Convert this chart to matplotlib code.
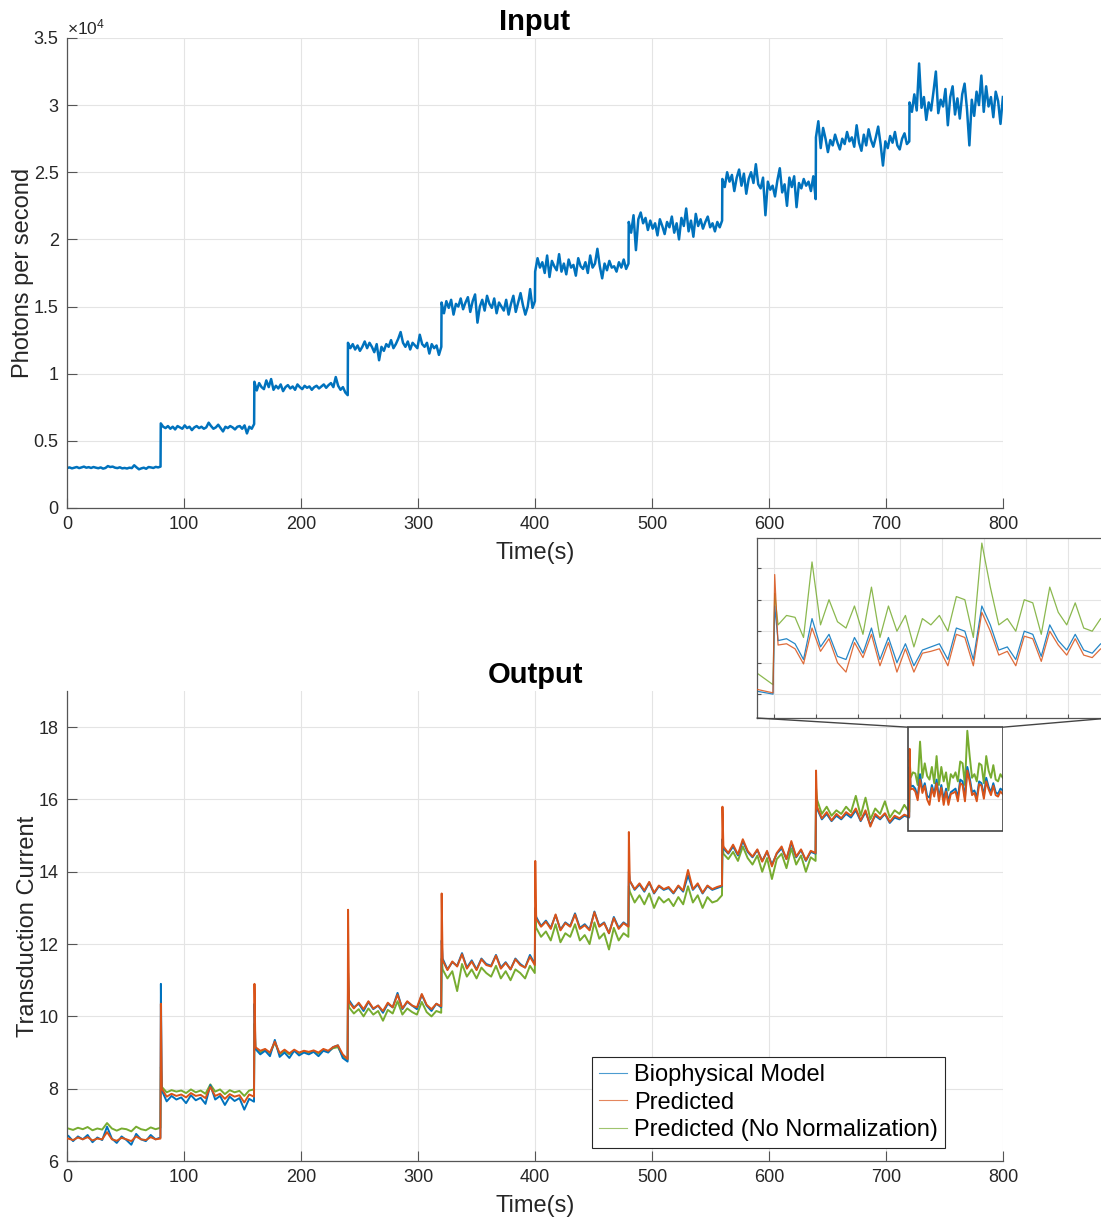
import numpy as np
import matplotlib.pyplot as plt
from matplotlib.patches import Rectangle, ConnectionPatch
from matplotlib.ticker import FuncFormatter

plt.rcParams['font.family'] = ['Liberation Sans', 'DejaVu Sans']
plt.rcParams['mathtext.fontset'] = 'custom'
plt.rcParams['mathtext.rm'] = 'Liberation Sans'

# light level steps every 80 s
step_times = [0, 80, 160, 240, 320, 400, 480, 560, 640, 720]

# input, thousands of photons per second, one reading every ~2 s
photons_k = [
    [2.98, 3.02, 2.95, 3.0, 3.05, 2.97, 3.02, 3.08, 3.0, 3.04, 2.98, 3.05, 3.0, 2.96, 3.02, 2.93, 2.98, 3.12, 3.05, 3.08,
     3.0, 2.97, 3.03, 2.95, 2.98, 2.94, 3.0, 2.97, 3.18, 3.02, 2.88, 2.95, 3.0, 2.92, 3.05, 3.02, 2.98, 3.06, 3.02, 3.08],
    [6.3, 6.05, 5.95, 6.1, 5.9, 6.05, 5.85, 6.1, 6.0, 5.9, 6.15, 5.95, 6.05, 5.8, 6.0, 6.1, 5.95, 6.05, 5.9, 6.0,
     6.35, 6.1, 5.9, 6.0, 6.2, 5.95, 5.7, 6.05, 5.95, 6.1, 6.0, 5.85, 6.05, 6.1, 5.9, 6.15, 5.55, 6.05, 5.9, 6.25],
    [9.4, 8.75, 9.3, 9.0, 8.85, 9.5, 9.0, 9.6, 8.8, 9.1, 8.9, 9.2, 8.7, 9.0, 9.15, 8.9, 9.05, 8.8, 9.2, 9.0,
     8.85, 9.1, 8.95, 9.05, 8.8, 9.0, 9.1, 8.9, 9.05, 9.2, 8.95, 9.15, 9.3, 9.0, 9.75, 9.1, 8.8, 9.0, 8.6, 8.4],
    [12.3, 11.9, 12.2, 11.8, 12.1, 11.7, 12.0, 12.4, 11.9, 12.3, 12.0, 11.6, 12.2, 11.0, 12.0, 11.7, 12.2, 12.0, 12.5, 11.9,
     12.2, 12.6, 13.1, 12.3, 12.0, 12.4, 11.8, 12.3, 12.1, 11.9, 12.9, 12.2, 12.0, 12.3, 11.5, 12.2, 11.9, 12.1, 11.4, 12.0],
    [15.3, 14.5, 15.4, 14.9, 15.5, 14.4, 15.2, 15.0, 15.6, 14.8, 15.3, 15.7, 14.6, 15.4, 15.9, 13.8, 15.0, 15.5, 14.7, 15.8,
     15.2, 14.9, 15.6, 14.5, 15.3, 15.0, 14.7, 15.5, 14.4, 15.2, 15.8, 14.6, 15.3, 16.0, 15.1, 14.4, 15.0, 16.3, 14.9, 15.4],
    [17.6, 18.6, 17.9, 18.3, 17.5, 18.8, 17.2, 18.4, 18.0, 17.7, 18.9, 17.6, 18.2, 17.4, 18.5, 17.9, 18.1, 17.3, 18.6, 18.0,
     17.8, 18.3, 17.5, 18.8, 17.9, 18.2, 19.3, 18.0, 17.1, 18.2, 17.7, 18.4, 17.9, 18.0, 17.6, 18.3, 17.9, 18.5, 17.8, 18.2],
    [21.3, 20.5, 21.8, 19.2, 21.5, 22.0, 21.2, 21.6, 20.7, 21.4, 20.8, 21.2, 20.3, 21.5, 21.0, 20.4, 21.3, 20.9, 21.7, 20.5,
     21.2, 20.0, 21.6, 21.0, 22.3, 20.6, 21.4, 20.2, 21.9, 21.0, 21.5, 20.8, 21.3, 21.7, 20.9, 21.2, 20.6, 21.3, 20.9, 21.4],
    [24.5, 23.9, 25.0, 24.3, 24.8, 23.6, 24.6, 25.2, 24.0, 24.9, 23.4, 24.5, 25.0, 24.2, 25.6, 24.1, 23.8, 24.6, 21.8, 24.3,
     23.7, 24.0, 23.2, 24.4, 25.3, 23.5, 24.1, 22.5, 24.6, 23.9, 24.7, 22.4, 24.2, 23.8, 24.5, 24.0, 24.3, 23.6, 24.7, 23.0],
    [27.6, 28.8, 26.8, 28.3, 27.5, 26.5, 27.4, 27.0, 27.8, 27.2, 26.7, 27.5, 27.1, 28.0, 27.3, 27.6, 26.9, 28.5, 27.2, 26.6,
     27.8, 27.0, 28.2, 27.4, 26.9, 27.6, 28.4, 27.1, 25.5, 27.3, 26.8, 27.7, 27.2, 28.0, 27.0, 26.7, 27.5, 27.9, 27.1, 27.3],
    [30.2, 29.5, 30.8, 29.6, 33.1, 29.8, 30.6, 28.9, 30.2, 29.6, 31.0, 32.5, 29.4, 30.4, 29.9, 31.2, 28.5, 30.6, 31.4, 29.3,
     30.5, 29.0, 30.8, 31.6, 29.7, 27.0, 30.4, 29.2, 31.0, 30.0, 32.2, 29.5, 31.4, 29.9, 30.6, 29.1, 31.0, 30.3, 28.6, 30.6],
]

# output current: peak right after each step, then readings along the step
bio_spike = [6.7, 10.9, 10.35, 11.2, 12.1, 13.0, 14.0, 14.9, 16.1, 16.9]
pred_spike = [6.62, 10.35, 10.9, 12.95, 13.4, 14.3, 15.1, 15.8, 16.8, 17.4]
nonorm_spike = [6.9, 8.6, 9.8, 10.8, 11.6, 12.8, 13.6, 14.9, 16.3, 17.1]

bio = [
    [6.7, 6.55, 6.68, 6.6, 6.72, 6.52, 6.65, 6.58, 6.95, 6.62, 6.5, 6.68, 6.58, 6.45, 6.75, 6.6, 6.55, 6.72, 6.6, 6.65],
    [7.95, 7.65, 7.8, 7.7, 7.76, 7.6, 7.82, 7.68, 7.75, 7.58, 8.1, 7.7, 7.8, 7.55, 7.78, 7.66, 7.74, 7.42, 7.72, 7.64],
    [9.1, 8.95, 9.05, 8.9, 9.35, 8.88, 9.0, 8.85, 9.05, 8.92, 9.0, 8.95, 9.02, 8.9, 9.05, 9.0, 9.15, 9.2, 8.85, 8.75],
    [10.45, 10.25, 10.35, 10.15, 10.4, 10.2, 10.3, 10.1, 10.35, 10.25, 10.65, 10.2, 10.4, 10.3, 10.2, 10.6, 10.3, 10.15, 10.35, 10.25],
    [11.6, 11.3, 11.5, 11.4, 11.75, 11.35, 11.55, 11.3, 11.6, 11.45, 11.4, 11.7, 11.35, 11.5, 11.3, 11.6, 11.45, 11.35, 11.7, 11.45],
    [12.75, 12.5, 12.65, 12.45, 12.8, 12.4, 12.6, 12.5, 12.85, 12.45, 12.55, 12.4, 12.9, 12.5, 12.6, 12.3, 12.75, 12.45, 12.6, 12.5],
    [13.75, 13.5, 13.65, 13.45, 13.7, 13.4, 13.6, 13.5, 13.55, 13.4, 13.6, 13.45, 13.9, 13.5, 13.65, 13.4, 13.6, 13.5, 13.55, 13.6],
    [14.65, 14.5, 14.7, 14.45, 14.85, 14.55, 14.4, 14.6, 14.3, 14.55, 14.2, 14.5, 14.65, 14.35, 14.8, 14.4, 14.6, 14.3, 14.55, 14.5],
    [15.75, 15.45, 15.6, 15.4, 15.55, 15.45, 15.6, 15.5, 15.7, 15.4, 15.65, 15.3, 15.55, 15.45, 15.6, 15.35, 15.5, 15.45, 15.55, 15.5],
    [16.35, 16.38, 16.3, 16.05, 16.7, 16.25, 16.45, 16.1, 16.05, 16.4, 16.15, 16.55, 16.05, 16.4, 16.0, 16.3, 15.95, 16.2, 16.25, 16.3,
     16.05, 16.55, 16.5, 16.05, 16.9, 16.6, 16.2, 16.25, 16.05, 16.5, 16.45, 16.1, 16.6, 16.35, 16.2, 16.45, 16.2, 16.15, 16.3, 16.25],
]

pred = [
    [6.62, 6.58, 6.65, 6.6, 6.66, 6.57, 6.62, 6.6, 6.8, 6.6, 6.56, 6.64, 6.6, 6.55, 6.68, 6.6, 6.58, 6.66, 6.6, 6.62],
    [8.0, 7.78, 7.86, 7.8, 7.84, 7.76, 7.88, 7.8, 7.83, 7.74, 8.05, 7.8, 7.86, 7.72, 7.85, 7.78, 7.82, 7.62, 7.84, 7.78],
    [9.15, 9.05, 9.1, 9.0, 9.3, 8.98, 9.08, 8.98, 9.08, 9.0, 9.05, 9.02, 9.06, 9.0, 9.1, 9.05, 9.15, 9.2, 8.95, 8.82],
    [10.4, 10.22, 10.38, 10.2, 10.42, 10.22, 10.3, 10.15, 10.38, 10.25, 10.6, 10.22, 10.42, 10.3, 10.25, 10.62, 10.32, 10.2, 10.35, 10.28],
    [11.55, 11.28, 11.52, 11.38, 11.72, 11.32, 11.52, 11.28, 11.58, 11.42, 11.38, 11.68, 11.32, 11.48, 11.3, 11.58, 11.42, 11.35, 11.65, 11.42],
    [12.7, 12.48, 12.62, 12.42, 12.82, 12.38, 12.58, 12.48, 12.82, 12.42, 12.52, 12.38, 12.88, 12.48, 12.58, 12.3, 12.72, 12.42, 12.58, 12.48],
    [13.75, 13.52, 13.68, 13.48, 13.72, 13.42, 13.62, 13.52, 13.58, 13.42, 13.62, 13.48, 14.05, 13.52, 13.68, 13.42, 13.62, 13.52, 13.58, 13.62],
    [14.7, 14.52, 14.75, 14.48, 14.9, 14.58, 14.42, 14.62, 14.28, 14.58, 14.15, 14.52, 14.7, 14.35, 14.85, 14.42, 14.62, 14.32, 14.58, 14.52],
    [15.8, 15.48, 15.65, 15.42, 15.6, 15.48, 15.65, 15.55, 15.75, 15.42, 15.7, 15.25, 15.6, 15.48, 15.62, 15.38, 15.55, 15.48, 15.58, 15.52],
    [16.28, 16.3, 16.22, 15.98, 16.55, 16.18, 16.38, 16.0, 15.85, 16.32, 16.08, 16.45, 15.95, 16.32, 15.85, 16.22, 15.85, 16.15, 16.18, 16.22,
     15.95, 16.45, 16.4, 15.95, 16.8, 16.5, 16.12, 16.18, 15.95, 16.42, 16.38, 16.02, 16.5, 16.28, 16.12, 16.38, 16.12, 16.08, 16.22, 16.15],
]

pred_nonorm = [
    [6.9, 6.86, 6.92, 6.88, 6.94, 6.85, 6.9, 6.87, 7.05, 6.9, 6.84, 6.9, 6.88, 6.82, 6.95, 6.88, 6.85, 6.93, 6.88, 6.92],
    [8.05, 7.9, 7.96, 7.92, 7.95, 7.88, 7.98, 7.9, 7.95, 7.86, 8.12, 7.92, 7.98, 7.85, 7.96, 7.9, 7.94, 7.8, 7.95, 7.98],
    [9.12, 9.0, 9.08, 8.98, 9.28, 8.95, 9.05, 8.95, 9.05, 8.98, 9.03, 9.0, 9.04, 8.97, 9.07, 9.03, 9.12, 9.15, 8.9, 8.8],
    [10.25, 10.08, 10.2, 10.0, 10.22, 10.05, 10.15, 9.88, 10.18, 10.08, 10.42, 10.05, 10.22, 10.12, 10.05, 10.4, 10.12, 10.0, 10.15, 10.1],
    [11.3, 11.05, 11.25, 10.7, 11.45, 11.1, 11.3, 11.05, 11.35, 11.2, 11.1, 11.4, 11.05, 11.25, 11.0, 11.3, 11.2, 11.05, 11.4, 11.2],
    [12.45, 12.2, 12.35, 12.1, 12.55, 12.05, 12.3, 12.2, 12.55, 12.1, 12.25, 12.0, 12.6, 12.15, 12.3, 11.85, 12.45, 12.1, 12.3, 12.2],
    [13.45, 13.15, 13.35, 13.1, 13.4, 13.0, 13.3, 13.15, 13.25, 13.05, 13.3, 13.1, 13.6, 13.15, 13.35, 13.0, 13.3, 13.15, 13.2, 13.35],
    [14.5, 14.35, 14.55, 14.3, 14.7, 14.38, 14.2, 14.45, 14.0, 14.38, 13.8, 14.35, 14.5, 14.1, 14.65, 14.2, 14.45, 14.0, 14.4, 14.3],
    [16.0, 15.6, 15.8, 15.55, 15.7, 15.6, 15.8, 15.65, 16.1, 15.55, 16.05, 15.45, 15.75, 15.6, 15.95, 15.5, 15.7, 15.6, 15.85, 15.65],
    [16.6, 16.75, 16.72, 16.4, 17.6, 16.6, 17.0, 16.65, 16.55, 16.9, 16.45, 17.2, 16.4, 16.9, 16.5, 16.75, 16.25, 16.7, 16.6, 16.75,
     16.5, 17.05, 17.0, 16.4, 17.9, 17.2, 16.6, 16.7, 16.5, 17.0, 16.95, 16.45, 17.2, 16.8, 16.6, 16.95, 16.55, 16.5, 16.7, 16.6],
]

BLUE = '#0072BD'
ORANGE = '#D95319'
GREEN = '#77AC30'


def input_trace():
    t, y = [], []
    for t0, seg in zip(step_times, photons_k):
        t.extend(t0 + np.linspace(0.1, 79.9, len(seg)))
        y.extend(np.array(seg) * 1000)
    return np.array(t), np.array(y)


def output_trace(levels, spikes):
    t, y = [], []
    for t0, seg, sp in zip(step_times, levels, spikes):
        t.append(t0 + 0.2)
        y.append(sp)
        t.extend(t0 + np.linspace(1, 79.8, len(seg)))
        y.extend(seg)
    return np.array(t), np.array(y)


def matlab_look(ax, labels=True):
    ax.grid(True, color='#e4e4e4', lw=0.8)
    ax.set_axisbelow(True)
    ax.tick_params(direction='in', length=7, width=0.8, color='#555555',
                   labelsize=13, labelcolor='#262626', pad=6)
    if labels:
        ax.spines['top'].set_visible(False)
        ax.spines['right'].set_visible(False)
    for s in ax.spines.values():
        s.set_color('#555555')
        s.set_linewidth(0.9)


fig = plt.figure(figsize=(11.01, 12.17), dpi=100)
ax1 = fig.add_axes([0.0609, 0.5826, 0.8501, 0.3862])
ax2 = fig.add_axes([0.0609, 0.0460, 0.8501, 0.3862])
axin = fig.add_axes([0.6876, 0.41, 0.3206, 0.1479])

# top: input photons
tin, yin = input_trace()
ax1.plot(tin, yin, color=BLUE, lw=1.8)
ax1.set_xlim(0, 800)
ax1.set_ylim(0, 35000)
ax1.set_xticks(range(0, 801, 100))
ax1.set_yticks(range(0, 35001, 5000))
ax1.yaxis.set_major_formatter(FuncFormatter(lambda v, p: f'{v / 1e4:g}'))
matlab_look(ax1)
ax1.text(0.0, 1.002, r'$\mathregular{\times10^4}$', transform=ax1.transAxes,
         ha='left', va='bottom', fontsize=12.5, color='#262626')
ax1.set_title('Input', fontsize=21, fontweight='bold', pad=6)
ax1.set_xlabel('Time(s)', fontsize=17, color='#262626', labelpad=6)
ax1.set_ylabel('Photons per second', fontsize=17, color='#262626', labelpad=0)

# bottom: output currents
traces = [
    (bio, bio_spike, BLUE, 'Biophysical Model', 2),
    (pred, pred_spike, ORANGE, 'Predicted', 3),
    (pred_nonorm, nonorm_spike, GREEN, 'Predicted (No Normalization)', 1),
]
handles = []
for levels, spikes, col, name, z in traces:
    t, y = output_trace(levels, spikes)
    ax2.plot(t, y, color=col, lw=1.4, zorder=z)
    axin.plot(t, y, color=col, lw=0.9, alpha=0.85, zorder=z)
    h, = ax2.plot([], [], color=col, lw=0.8, alpha=0.7, label=name)
    handles.append(h)

ax2.set_xlim(0, 800)
ax2.set_ylim(6, 19)
ax2.set_xticks(range(0, 801, 100))
ax2.set_yticks(range(6, 19, 2))
matlab_look(ax2)
ax2.set_title('Output', fontsize=21, fontweight='bold', pad=6)
ax2.set_xlabel('Time(s)', fontsize=17, color='#262626', labelpad=6)
ax2.set_ylabel('Transduction Current', fontsize=17, color='#262626', labelpad=0)

leg = ax2.legend(handles=handles, loc='lower right', bbox_to_anchor=(0.938, 0.028),
                 borderaxespad=0, fontsize=17, fancybox=False, edgecolor='#262626',
                 framealpha=1, handlelength=1.2, handletextpad=0.3,
                 labelspacing=0.22, borderpad=0.3)
leg.get_frame().set_linewidth(0.8)

# zoomed inset of the last step
x0, x1, y0, y1 = 718.5, 800, 15.13, 18.0
axin.set_xlim(716, 800)
axin.set_ylim(15.12, 17.98)
axin.set_xticks(range(720, 801, 10))
axin.set_yticks(np.arange(15.5, 18.0, 0.5))
axin.set_xticklabels([])
axin.set_yticklabels([])
matlab_look(axin, labels=False)
axin.tick_params(length=3)

ax2.add_patch(Rectangle((x0, y0), x1 - x0, y1 - y0, fill=False, ec='#444444', lw=1.2, zorder=6))
for xa, xb in [(x0, 0), (x1, 1)]:
    con = ConnectionPatch(xyA=(xa, y1), coordsA=ax2.transData, xyB=(xb, 0), coordsB=axin.transAxes,
                          color='#444444', lw=1.0)
    fig.add_artist(con)

fig.savefig('out.png', dpi=100)
